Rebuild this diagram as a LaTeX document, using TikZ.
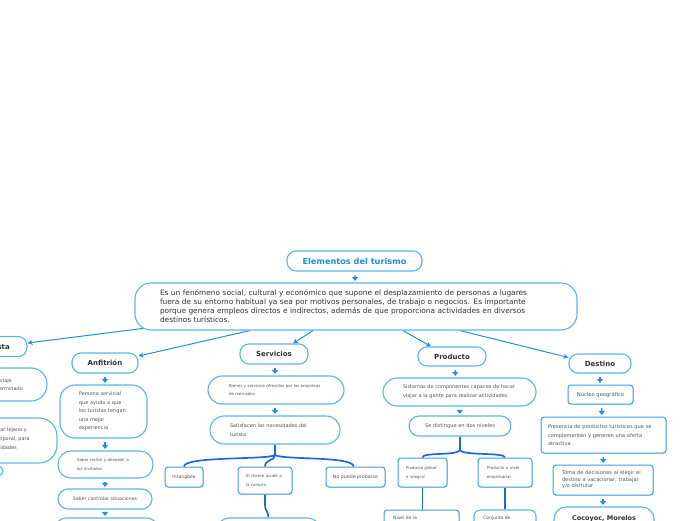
\documentclass[tikz,border=0pt]{standalone}
\usepackage{fontspec}
\setmainfont{DejaVu Sans}
\usetikzlibrary{arrows.meta,shadows}
\definecolor{bord}{HTML}{5AB4EE}
\definecolor{bordd}{HTML}{3C9EE6}
\definecolor{arr}{HTML}{1E8FE5}
\definecolor{treec}{HTML}{1A6AD6}
\definecolor{txt}{HTML}{333333}
\definecolor{stxt}{HTML}{555555}
\definecolor{ttl}{HTML}{1C8FE3}
\pgfdeclarelayer{background}
\pgfsetlayers{background,main}
\tikzset{
  rbox/.style={draw=bord, line width=1.1pt, rounded corners=#1, fill=white, text=stxt, inner sep=0pt, align=left},
  sbox/.style={draw=bordd, line width=1pt, rounded corners=3pt, fill=white, text=stxt, inner sep=0pt, align=left,
    drop shadow={shadow xshift=0.8pt, shadow yshift=-0.9pt, opacity=0.25}},
  hbox/.style={draw=bord, line width=1.1pt, rounded corners=9pt, fill=white, text=txt, inner sep=0pt,
    font=\fontsize{7}{8}\selectfont\bfseries},
  conn/.style={draw=arr, line width=1pt, -{Stealth[length=5pt,width=5pt]}},
  darr/.style={draw=arr, line width=1.3pt, -{Triangle[length=4pt,width=6pt]}, shorten <=3.5pt, shorten >=1.5pt},
  treel/.style={draw=treec, line width=1.7pt},
  frag/.style={inner sep=0pt, text=stxt, font=\fontsize{5}{6}\selectfont},
}
\begin{document}
\begin{tikzpicture}[x=1pt,y=-1pt]
\clip (0,0) rectangle (696,520);

% title and paragraph
\node[hbox, minimum width=135pt, minimum height=20pt, text=ttl, font=\fontsize{8.2}{9}\selectfont\bfseries] (title) at (354.5,261) {Elementos del turismo};
\node[rbox=16pt, text=txt, minimum width=442pt, minimum height=47pt, text width=406pt, inner xsep=18pt, font=\fontsize{7.4}{9}\selectfont] (para) at (356,306.5)
 {\hspace*{7pt}Es un fenómeno social, cultural y económico que supone el desplazamiento de personas a lugares\\
  \hspace*{7pt}fuera de su entorno habitual ya sea por motivos personales, de trabajo o negocios. Es importante\\
  \hspace*{7pt}porque genera empleos directos e indirectos, además de que proporciona actividades en diversos\\
  \hspace*{7pt}destinos turísticos.};

% level 1
\node[hbox, minimum width=66pt, minimum height=20pt] (turista) at (-6,346.5) {};
\node[inner sep=0pt, text=txt, font=\fontsize{7}{8}\selectfont\bfseries, anchor=east] (turt) at (10,346.5) {Turista};
\node[hbox, minimum width=66pt, minimum height=20pt] (anf) at (105,363) {Anfitrión};
\node[hbox, minimum width=68pt, minimum height=20pt] (serv) at (274,354) {Servicios};
\node[hbox, minimum width=68pt, minimum height=19pt] (prod) at (452,356.5) {Producto};
\node[hbox, minimum width=62pt, minimum height=19pt] (dest) at (600,363.5) {Destino};

% Turista column
\node[rbox=16pt, minimum width=106pt, minimum height=33pt] (tur1) at (-6,384.5) {};
\node[frag, anchor=base east] (tur1a) at (12,382) {Persona que realiza un viaje};
\node[frag, anchor=base east] (tur1b) at (23,390) {a un lugar determinado};
\node[rbox=18pt, minimum width=126pt, minimum height=45pt] (tur2) at (-6,440.5) {};
\node[frag, anchor=base east] (tur2a) at (27,431) {Traslado a un lugar lejano y};
\node[frag, anchor=base east] (tur2b) at (30,440) {de carácter temporal, para};
\node[frag, anchor=base east] (tur2c) at (17,449) {realizar actividades};
\node[rbox=5pt, minimum width=30pt, minimum height=10pt] (tur3) at (-12,471) {};

% Anfitrion column
\node[rbox=15pt, minimum width=87pt, minimum height=53pt, text width=60pt, inner xsep=13.5pt, font=\fontsize{5}{8.5}\selectfont] (pers) at (103.5,411.5)
 {\hspace*{5.5pt}Persona servicial\\\hspace*{5.5pt}que ayuda a que\\\hspace*{5.5pt}los turistas tengan\\\hspace*{5.5pt}una mejor\\\hspace*{5.5pt}experiencia};
\node[rbox=13pt, minimum width=95pt, minimum height=27pt, text width=70pt, inner xsep=12.5pt, font=\fontsize{4}{9}\selectfont] (saber) at (105.5,464.5)
 {\hspace*{6.5pt}Saber recibir y despedir a\\\hspace*{6.5pt}los invitados};
\node[rbox=10pt, minimum width=94pt, minimum height=20pt, align=center, font=\fontsize{4.7}{5}\selectfont] (ctrl) at (105,499) {Saber controlar situaciones};
\node[rbox=14pt, minimum width=107pt, minimum height=30pt] (anf4) at (106.5,533) {};

% Servicios column
\node[rbox=14pt, minimum width=136pt, minimum height=28pt, text width=110pt, inner xsep=13pt, font=\fontsize{4}{8}\selectfont] (bien) at (276,390)
 {\hspace*{8pt}Bienes y servicios ofrecidos por las empresas\\\hspace*{8pt}de mercados};
\node[rbox=14pt, minimum width=130pt, minimum height=28pt, text width=104pt, inner xsep=13pt, font=\fontsize{5}{9}\selectfont] (satis) at (275,430)
 {\hspace*{7pt}Satisfacen las necesidades del\\\hspace*{7pt}turista};
\node[sbox, minimum width=38pt, minimum height=20pt, align=center, font=\fontsize{4.6}{5}\selectfont] (intang) at (184,477) {Intangible};
\node[sbox, minimum width=54pt, minimum height=27pt, text width=46pt, inner xsep=4pt, font=\fontsize{4}{9}\selectfont] (cli) at (265,480.5)
 {\hspace*{4pt}El cliente acude a\\\hspace*{4pt}la compra};
\node[sbox, minimum width=59pt, minimum height=20pt, align=center, font=\fontsize{4.7}{5}\selectfont] (npp) at (355.5,477) {No puede probarse};
\node[rbox=12pt, minimum width=103pt, minimum height=30pt] (serv5) at (268.5,533) {};

% Producto column
\node[rbox=14pt, minimum width=153pt, minimum height=28pt, text width=125pt, inner xsep=14pt, font=\fontsize{5}{9}\selectfont] (sist) at (459.5,392)
 {\hspace*{6pt}Sistemas de componentes capaces de hacer\\\hspace*{6pt}viajar a la gente para realizar actividades.};
\node[rbox=10pt, minimum width=102pt, minimum height=20pt, align=center, font=\fontsize{5.1}{6}\selectfont] (dist) at (460,426) {Se distingue en dos niveles};
\node[sbox, minimum width=49pt, minimum height=29pt, text width=43pt, inner xsep=3pt, font=\fontsize{3.9}{9}\selectfont] (pglob) at (422.5,472.5)
 {\hspace*{5pt}Producto global\\\hspace*{5pt}e integral};
\node[sbox, minimum width=54pt, minimum height=29pt, text width=48pt, inner xsep=3pt, font=\fontsize{4}{9}\selectfont] (pemp) at (505,472.5)
 {\hspace*{6pt}Producto a nivel\\\hspace*{6pt}empresarial};
\node[sbox, minimum width=75pt, minimum height=30pt] (niv) at (421.5,525) {};
\node[inner sep=0pt, text=stxt, font=\fontsize{4.5}{5}\selectfont, anchor=base west] (nivt) at (393,519.5) {Nivel de la};
\node[rbox=6pt, minimum width=62pt, minimum height=30pt] (conj) at (505,525) {};
\node[inner sep=0pt, text=stxt, font=\fontsize{4.5}{5}\selectfont, anchor=base west] (conjt) at (483,519.5) {Conjunto de};

% Destino column
\node[sbox, minimum width=65pt, minimum height=19pt, align=center, font=\fontsize{5.2}{6}\selectfont] (nuc) at (600.5,394.5) {Núcleo geográfico};
\node[sbox, minimum width=125pt, minimum height=36pt, text width=119pt, inner xsep=3pt, font=\fontsize{5.1}{8.5}\selectfont] (pres) at (603.5,435)
 {\hspace*{4pt}Presencia de productos turísticos que se\\\hspace*{4pt}complementen y generen una oferta\\\hspace*{4pt}atractiva};
\node[sbox, minimum width=100pt, minimum height=30pt, text width=94pt, inner xsep=3pt, font=\fontsize{5.1}{6.5}\selectfont] (toma) at (603,480)
 {\hspace*{6pt}Toma de decisiones al elegir el\\\hspace*{6pt}destino a vacacionar, trabajar\\\hspace*{6pt}y/o disfrutar};
\node[rbox=12pt, minimum width=100pt, minimum height=26pt] (coc) at (604,520) {};
\node[inner sep=0pt, text=txt, font=\fontsize{6.5}{7}\selectfont\bfseries, anchor=base] (coct) at (604,520.5) {Cocoyoc, Morelos};

\begin{pgfonlayer}{background}
  \draw[darr] (title) -- (para);
  \draw[conn] ([xshift=-206pt,yshift=3pt]para.south) -- ([yshift=3.5pt]turista.east);
  \draw[conn] ([xshift=-106pt]para.south) -- ([yshift=7pt]anf.east);
  \draw[conn] ([xshift=-43pt]para.south) -- ([xshift=19pt]serv.north);
  \draw[conn] ([xshift=47pt]para.south) -- ([xshift=-21pt]prod.north);
  \draw[conn] ([xshift=104pt]para.south) -- ([yshift=6pt]dest.west);

  \draw[darr] ([xshift=3pt]turista.south) -- ([xshift=3pt]tur1.north);
  \draw[darr] ([xshift=3pt]tur1.south) -- ([xshift=3pt]tur2.north);

  \draw[darr] (anf) -- (pers.north -| anf);
  \draw[darr] (pers.south -| anf) -- (saber.north -| anf);
  \draw[darr] (saber.south -| anf) -- (ctrl.north -| anf);
  \draw[darr] (ctrl.south -| anf) -- (anf4.north -| anf);

  \draw[darr] ([xshift=1pt]serv.south) -- ([xshift=-1pt]bien.north);
  \draw[darr] ([xshift=-1pt]bien.north |- bien.south) -- (satis.north);

  \coordinate (sj) at (275,455);
  \draw[treel] (satis.south) -- (sj);
  \draw[treel] (sj) .. controls (268,460) and (184,456) .. (intang.north);
  \draw[treel] (sj) .. controls (275,461) and (265,459) .. (cli.north);
  \draw[treel] (sj) .. controls (282,460) and (354,456) .. ([xshift=-2pt]npp.north);
  \coordinate (cj) at (265,505);
  \draw[treel] (cli.south) -- (cj) .. controls (265,511) and (268,510) .. (serv5.north);

  \draw[darr] ([xshift=3pt]prod.south) -- ([xshift=-4pt]sist.north);
  \draw[darr] (sist.south) -- (dist.north);
  \coordinate (pj) at (460,450);
  \draw[treel] (dist.south) -- (pj);
  \draw[treel] (pj) .. controls (457,456) and (422,452) .. (pglob.north);
  \draw[treel] (pj) .. controls (463,456) and (505,452) .. (pemp.north);
  \draw[treel] (pglob.south) -- (pglob.south |- niv.north);
  \draw[treel] (pemp.south) -- (conj.north);

  \draw[darr] (dest.south) -- (nuc.north -| dest);
  \draw[darr] ([xshift=1pt]nuc.south) -- ([xshift=-1.5pt]pres.north);
  \draw[darr] (pres.south) -- (toma.north);
  \draw[darr] (toma.south) -- ([xshift=-1pt]coc.north);
\end{pgfonlayer}
\end{tikzpicture}
\end{document}
